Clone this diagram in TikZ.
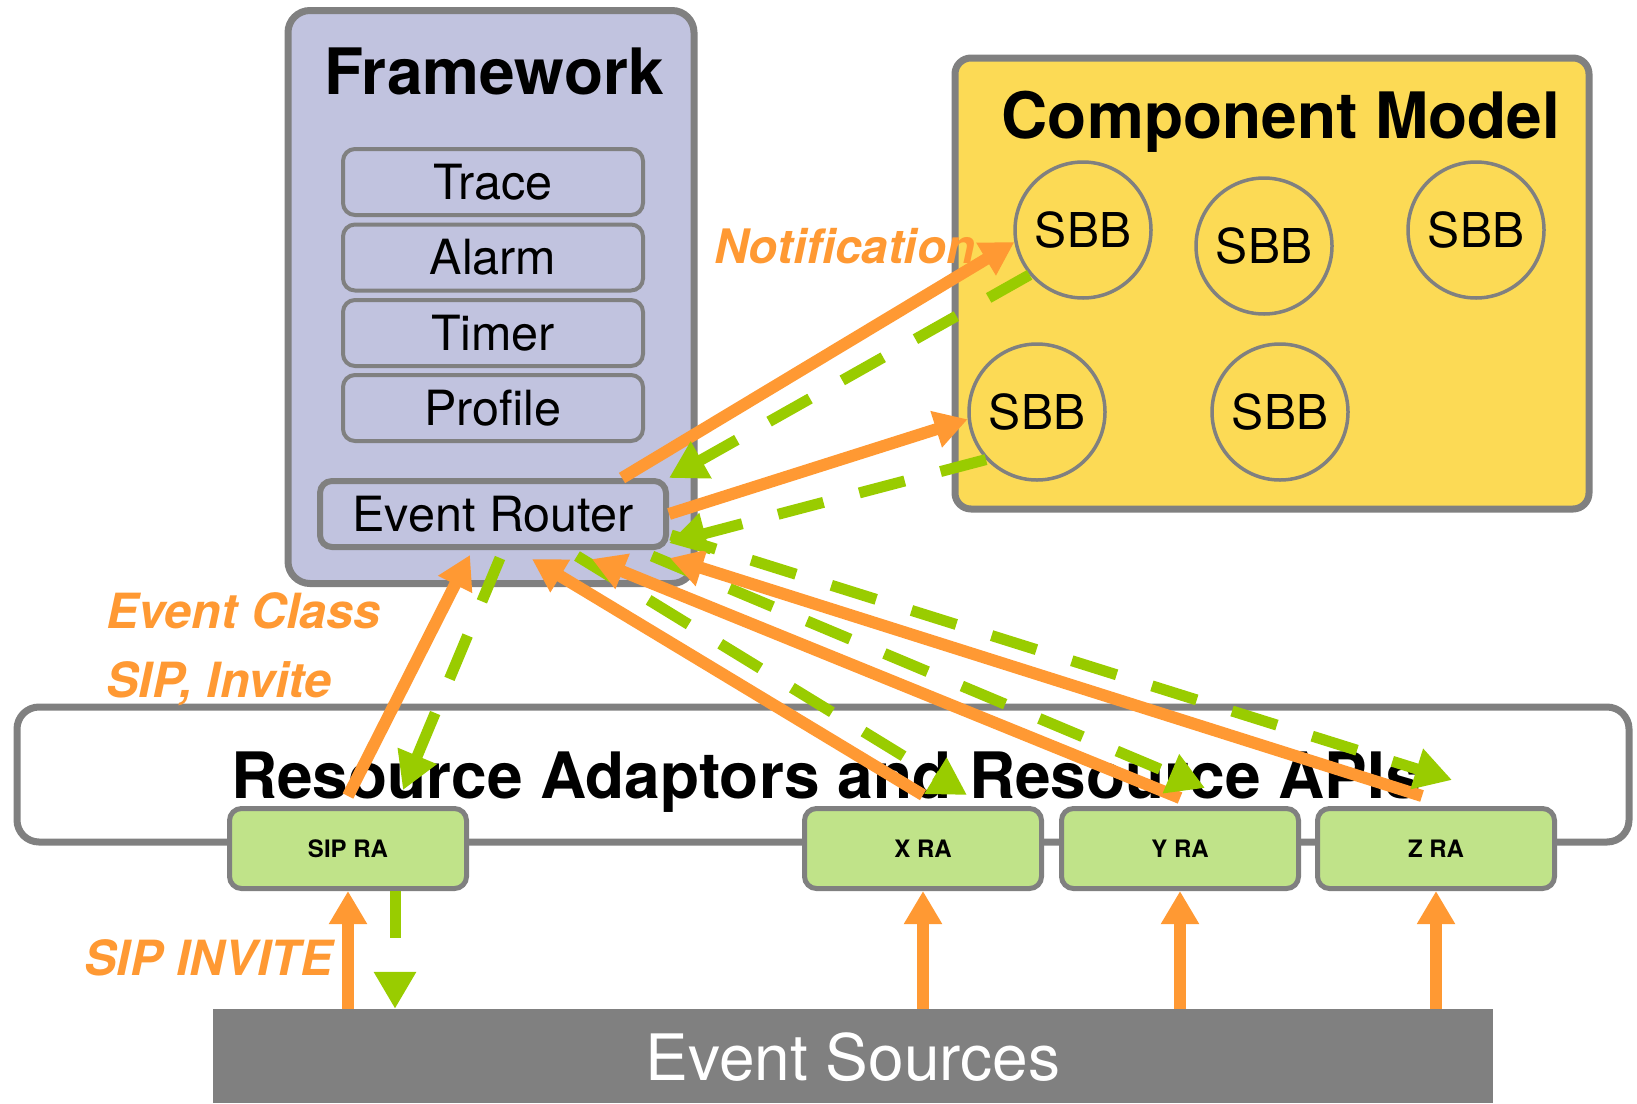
\documentclass[tikz,border=0pt]{standalone}
\usepackage{fontspec}
\setmainfont{TeX Gyre Heros}
\usetikzlibrary{arrows.meta,calc}
\definecolor{fwfill}{HTML}{C1C3DF}
\definecolor{cmfill}{HTML}{FCDA55}
\definecolor{rafill}{HTML}{C0E389}
\definecolor{bord}{HTML}{808080}
\definecolor{org}{HTML}{FF9933}
\definecolor{grn}{HTML}{99CC00}
\newcommand\myfs[1]{\fontsize{#1}{#1}\selectfont}
\begin{document}
\begin{tikzpicture}[x=1pt,y=-1pt,
  bigbox/.style={draw=bord, line width=7pt, rounded corners=22pt, inner sep=0pt},
  modbox/.style={draw=bord, line width=4pt, rounded corners=12pt, inner sep=0pt, fill=fwfill,
     minimum width=300pt, minimum height=66pt, text height=34.8pt, text depth=0pt, font=\myfs{48.5}},
  sbb/.style={circle, draw=bord, line width=3.5pt, minimum size=136pt, inner sep=0pt,
     text height=34.5pt, text depth=0pt, font=\myfs{48}},
  rabox/.style={draw=bord, line width=5pt, fill=rafill, rounded corners=12pt, inner sep=0pt,
     minimum width=237pt, minimum height=80pt, font=\bfseries\myfs{24}, text height=17.2pt, text depth=0pt},
  title/.style={anchor=base, font=\bfseries\myfs{64}},
  lbl/.style={anchor=base west, text=org, font=\bfseries\itshape\myfs{48.5}},
  oarr/.style={draw=org, line width=12pt, -{Triangle[width=36pt,length=33pt]}},
  garr/.style={draw=grn, line width=11pt, dash pattern=on 47pt off 37pt, -{Triangle[width=40pt,length=37pt]}}
]
\useasboundingbox (0,0) rectangle (1637,1103);

% Framework
\node[bigbox, fill=fwfill, minimum width=406pt, minimum height=573pt] (fw) at (491,297) {};
\node[title] (fwt) at (494,94) {Framework};
\node[modbox] (trace) at (493,182) {Trace};
\node[modbox] (alarm) at (493,257.5) {Alarm};
\node[modbox] (timer) at (493,333) {Timer};
\node[modbox] (profile) at (493,408) {Profile};
\node[modbox, line width=6pt, minimum width=346pt] (er) at (493,514) {Event Router};

% Component model
\node[bigbox, fill=cmfill, rounded corners=16pt, minimum width=634pt, minimum height=451pt] (cm) at (1272,283.5) {};
\node[title] (cmt) at (1281,138) {Component Model};
\node[sbb] (sbb1) at (1083,230) {SBB};
\node[sbb] (sbb2) at (1264,246) {SBB};
\node[sbb] (sbb3) at (1476,230) {SBB};
\node[sbb] (sbb4) at (1037,412) {SBB};
\node[sbb] (sbb5) at (1280,412) {SBB};

% Resource adaptors
\node[bigbox, fill=white, minimum width=1612pt, minimum height=135pt] (ra) at (823,774.5) {};
\node[title] (rat) at (826,798) {Resource Adaptors and Resource APIs};
\node[rabox] (sipra) at (348,848.5) {SIP RA};
\node[rabox] (xra) at (923,848.5) {X RA};
\node[rabox] (yra) at (1180,848.5) {Y RA};
\node[rabox] (zra) at (1436,848.5) {Z RA};

% Event sources
\node[fill=bord, minimum width=1280pt, minimum height=94pt, inner sep=0pt] (es) at (853,1056) {};
\node[anchor=base, text=white, font=\myfs{64}] (est) at (853,1080) {Event Sources};

% Labels
\node[lbl, font=\bfseries\itshape\myfs{47.5}] (lnot) at (711,263) {Notification};
\node[lbl] (lec) at (103,628) {Event Class};
\node[lbl] (lsi) at (103,697) {SIP, Invite};
\node[lbl] (lsip) at (81,975) {SIP INVITE};

% Arrows to/from component model
\draw[oarr] ($(er.north)+(129,0)$) -- (sbb1.190);
\draw[garr] (sbb1.220) -- (er.north east);
\draw[oarr] (er.east) -- (sbb4.186);
\draw[garr] (sbb4.223) -- ($(er.south east)+(0,-7)$);

% Arrows between RAs and event router
\draw[oarr] ($(sipra.north)+(0,-10)$) -- ($(er.south)+(-23,5)$);
\draw[garr] ($(er.south)+(7,8)$) -- ($(sipra.north)+(55,-16)$);
\draw[oarr] ($(xra.north)+(0,-11)$) -- ($(er.south)+(39,9)$);
\draw[garr] ($(er.south)+(84,6)$) -- ($(xra.north)+(44,-11)$);
\draw[oarr] ($(yra.north)+(0,-8)$) -- ($(er.south)+(99,9)$);
\draw[garr] ($(er.south)+(159,6)$) -- ($(yra.north)+(25,-18)$);
\draw[oarr] ($(zra.north)+(-14,-10)$) -- ($(er.south east)+(1,8)$);
\draw[garr] ($(er.east)+(2,21)$) -- ($(zra.north)+(16,-26)$);

% Vertical arrows from event sources
\draw[oarr] (sipra.south |- es.north) -- (sipra.south);
\draw[oarr] (xra.south |- es.north) -- (xra.south);
\draw[oarr] (yra.south |- es.north) -- (yra.south);
\draw[oarr] (zra.south |- es.north) -- (zra.south);
\coordinate (gs) at ($(sipra.south)+(47,0)$);
\draw[garr] (gs) -- (gs |- es.north);
\end{tikzpicture}
\end{document}
